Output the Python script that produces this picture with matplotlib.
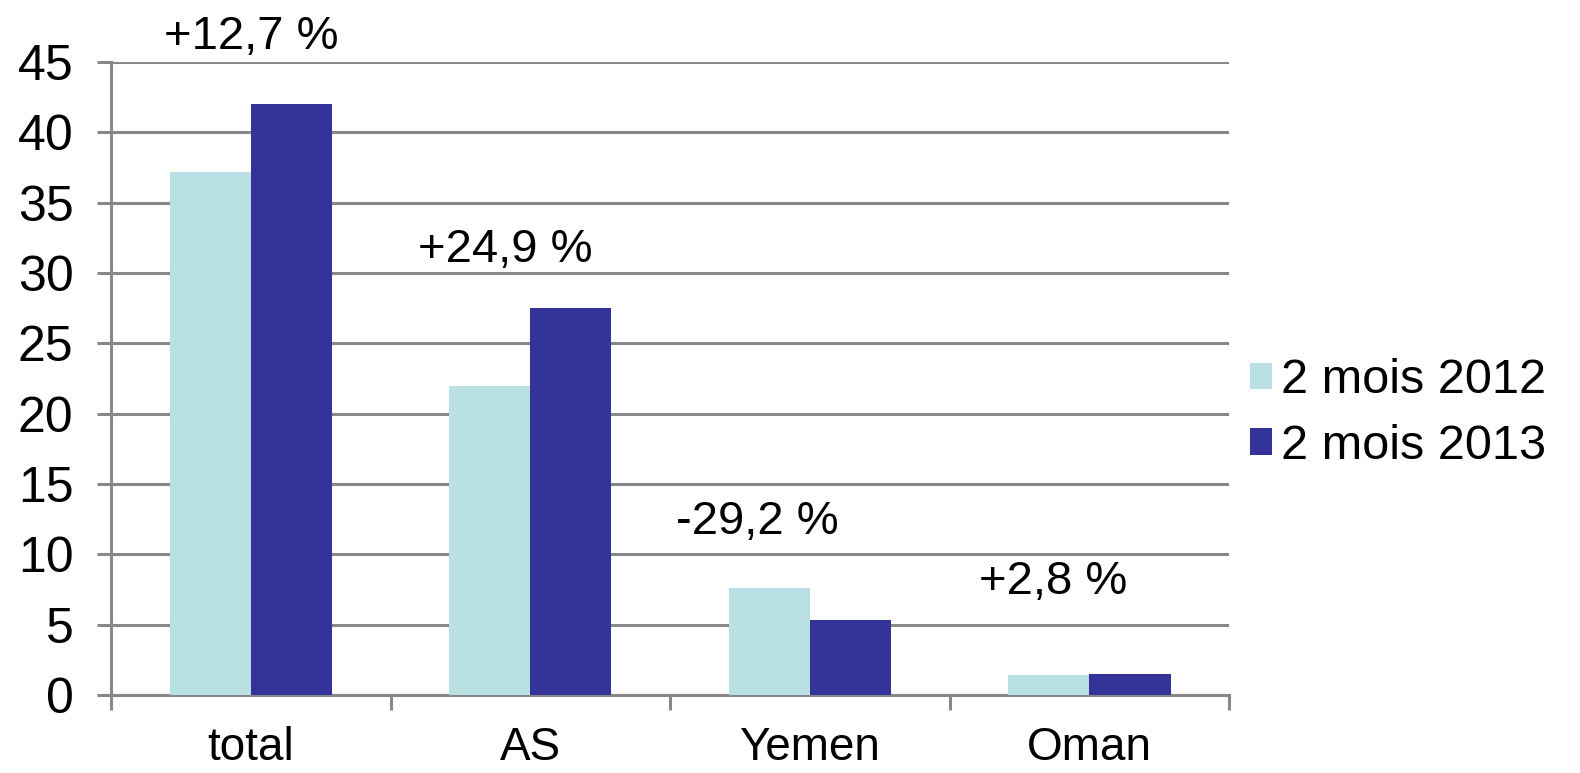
import numpy as np
import matplotlib
matplotlib.use("Agg")
import matplotlib.pyplot as plt

plt.rcParams['font.family'] = ['Liberation Sans', 'DejaVu Sans']

categories = ['total', 'AS', 'Yemen', 'Oman']
series_names = ['2 mois 2012', '2 mois 2013']
values_2012 = [37.2, 22.0, 7.6, 1.45]
values_2013 = [42.0, 27.5, 5.35, 1.5]
changes = ['+12,7 %', '+24,9 %', '-29,2 %', '+2,8 %']
# where the change labels sit (x in category units, y in data units)
label_x = [0.0, 0.91, 1.81, 2.87]
label_y = [46.8, 31.6, 12.3, 8.0]
yticks = [0, 5, 10, 15, 20, 25, 30, 35, 40, 45]

light = '#b9e0e3'
dark = '#333399'
grey = '#888888'

fig = plt.figure(figsize=(15.8, 7.73), dpi=100)
ax = fig.add_axes([0.0703, 0.1009, 0.7077, 0.8189])

x = np.arange(len(categories))
w = 0.29
ax.bar(x - w/2, values_2012, w, color=light, label=series_names[0], zorder=3)
ax.bar(x + w/2, values_2013, w, color=dark, label=series_names[1], zorder=3)

ax.set_xlim(-0.5, len(categories) - 0.5)
ax.set_ylim(0, 45)
ax.set_yticks(yticks)
ax.yaxis.grid(True, color=grey, linewidth=2.2, zorder=0)
ax.set_axisbelow(True)

for s in ['top', 'right']:
    ax.spines[s].set_visible(False)
for s in ['left', 'bottom']:
    ax.spines[s].set_color(grey)
    ax.spines[s].set_linewidth(2.2)

ax.tick_params(axis='y', length=10, width=2.2, color=grey, pad=17,
               labelsize=36)
ax.set_xticks(x)
ax.set_xticklabels(categories)
ax.set_xticks(np.arange(len(categories) + 1) - 0.5, minor=True)
ax.tick_params(axis='x', which='major', length=0, pad=22, labelsize=33)
ax.tick_params(axis='x', which='minor', length=11, width=2.2, color=grey)

for xi, yi, t in zip(label_x, label_y, changes):
    ax.text(xi, yi, t, ha='center', va='center', fontsize=34, clip_on=False)

fig.legend(loc='center left', bbox_to_anchor=(0.791, 0.465), frameon=False,
           fontsize=35, handlelength=0.45, handleheight=0.45,
           handletextpad=0.2, labelspacing=0.42, borderpad=0,
           borderaxespad=0)

fig.savefig('out.png', dpi=100)
